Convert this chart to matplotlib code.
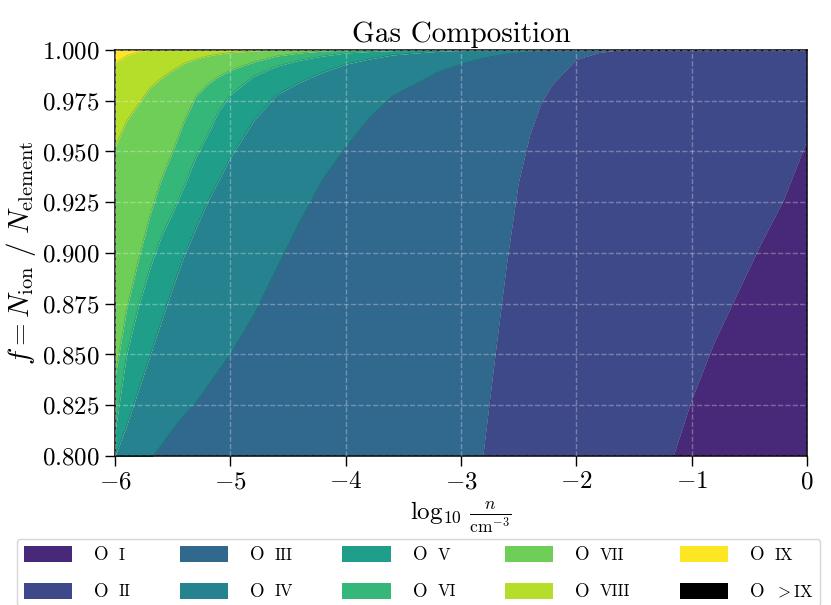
import numpy as np
import matplotlib
matplotlib.use("Agg")
import matplotlib.pyplot as plt

plt.rcParams.update({
    "font.family": "serif",
    "font.serif": ["cmr10"],
    "mathtext.fontset": "cm",
    "axes.formatter.use_mathtext": True,
})

# x axis: log10 of density
log_n = [-6.0, -5.9, -5.8, -5.7, -5.6, -5.5, -5.4, -5.3, -5.2, -5.1, -5.0,
         -4.8, -4.6, -4.4, -4.2, -4.0, -3.8, -3.6, -3.4, -3.2, -3.0, -2.8,
         -2.7, -2.6, -2.5, -2.4, -2.3, -2.2,
         -2.0, -1.8, -1.6, -1.4, -1.2, -1.0, -0.8, -0.6, -0.4, -0.2, 0.0]

# cumulative fraction up to (and including) each ion
top_O1 = [0.02, 0.02, 0.02, 0.02, 0.02, 0.03, 0.03, 0.03, 0.03, 0.03, 0.04,
          0.04, 0.05, 0.06, 0.07, 0.08, 0.09, 0.11, 0.13, 0.15, 0.18, 0.21,
          0.23, 0.25, 0.27, 0.30, 0.33, 0.36,
          0.43, 0.51, 0.59, 0.69, 0.792, 0.827, 0.856, 0.880, 0.904, 0.926, 0.955]
top_O2 = [0.30, 0.31, 0.32, 0.33, 0.34, 0.35, 0.36, 0.37, 0.38, 0.39, 0.40,
          0.42, 0.44, 0.46, 0.48, 0.50, 0.53, 0.56, 0.60, 0.65, 0.72, 0.803,
          0.850, 0.895, 0.934, 0.958, 0.974, 0.983,
          0.995, 0.9985, 1.0, 1.0, 1.0, 1.0, 1.0, 1.0, 1.0, 1.0, 1.0]
top_O3 = [0.775, 0.783, 0.790, 0.798, 0.805, 0.813, 0.820, 0.826, 0.834, 0.842, 0.850,
          0.869, 0.892, 0.915, 0.936, 0.952, 0.966, 0.977, 0.983, 0.989, 0.993, 0.996,
          0.997, 0.998, 0.9985, 0.999, 0.9995, 0.9997,
          1.0, 1.0, 1.0, 1.0, 1.0, 1.0, 1.0, 1.0, 1.0, 1.0, 1.0]
top_O4 = [0.800, 0.815, 0.832, 0.849, 0.866, 0.883, 0.899, 0.912, 0.925, 0.936, 0.947,
          0.965, 0.978, 0.984, 0.989, 0.993, 0.9955, 0.9975, 0.9985, 0.9993, 0.9998, 1.0,
          1.0, 1.0, 1.0, 1.0, 1.0, 1.0,
          1.0, 1.0, 1.0, 1.0, 1.0, 1.0, 1.0, 1.0, 1.0, 1.0, 1.0]
top_O5 = [0.812, 0.850, 0.873, 0.892, 0.908, 0.920, 0.933, 0.947, 0.958, 0.970, 0.978,
          0.987, 0.992, 0.995, 0.997, 0.9985, 0.9992, 0.9997, 1.0, 1.0, 1.0, 1.0,
          1.0, 1.0, 1.0, 1.0, 1.0, 1.0,
          1.0, 1.0, 1.0, 1.0, 1.0, 1.0, 1.0, 1.0, 1.0, 1.0, 1.0]
top_O6 = [0.839, 0.872, 0.896, 0.918, 0.936, 0.950, 0.965, 0.977, 0.983, 0.987, 0.990,
          0.994, 0.997, 0.9985, 0.9995, 1.0, 1.0, 1.0, 1.0, 1.0, 1.0, 1.0,
          1.0, 1.0, 1.0, 1.0, 1.0, 1.0,
          1.0, 1.0, 1.0, 1.0, 1.0, 1.0, 1.0, 1.0, 1.0, 1.0, 1.0]
top_O7 = [0.952, 0.965, 0.973, 0.981, 0.986, 0.990, 0.9935, 0.9955, 0.997, 0.998, 0.9987,
          0.9995, 1.0, 1.0, 1.0, 1.0, 1.0, 1.0, 1.0, 1.0, 1.0, 1.0,
          1.0, 1.0, 1.0, 1.0, 1.0, 1.0,
          1.0, 1.0, 1.0, 1.0, 1.0, 1.0, 1.0, 1.0, 1.0, 1.0, 1.0]
top_O8 = [0.9936, 0.9972, 0.999, 1.0, 1.0, 1.0, 1.0, 1.0, 1.0, 1.0, 1.0,
          1.0, 1.0, 1.0, 1.0, 1.0, 1.0, 1.0, 1.0, 1.0, 1.0, 1.0,
          1.0, 1.0, 1.0, 1.0, 1.0, 1.0,
          1.0, 1.0, 1.0, 1.0, 1.0, 1.0, 1.0, 1.0, 1.0, 1.0, 1.0]

element = "O"
ions = ["I", "II", "III", "IV", "V", "VI", "VII", "VIII", "IX", r"${>}$IX"]
xticks = [-6, -5, -4, -3, -2, -1, 0]
yticks = [0.800, 0.825, 0.850, 0.875, 0.900, 0.925, 0.950, 0.975, 1.000]

colors = [plt.cm.viridis(i / 9) for i in range(1, 10)] + ["black"]
zeros = np.zeros(len(log_n))
ones = np.ones(len(log_n))
bounds = [zeros, top_O1, top_O2, top_O3, top_O4, top_O5, top_O6, top_O7, top_O8, ones, ones]

fig = plt.figure(figsize=(8.31, 6.05), dpi=100)
ax = fig.add_axes([0.1384, 0.2463, 0.9711 - 0.1384, 0.9174 - 0.2463])

for i in range(10):
    ax.fill_between(log_n, bounds[i], bounds[i + 1], color=colors[i], lw=0,
                    label=ions[i], zorder=1)
for b in bounds[1:9]:
    ax.plot(log_n, b, color="k", lw=0.7, alpha=0.15, zorder=1.5)

ax.set_xlim(-6, 0)
ax.set_ylim(0.8, 1.0)
ax.set_xticks(xticks)
ax.set_yticks(yticks)
ax.grid(True, color="white", alpha=0.3, linestyle="--", lw=1)
ax.set_axisbelow(False)
ax.tick_params(direction="out", length=7, width=1, labelsize=18, pad=4)
for s in ax.spines.values():
    s.set_linewidth(1.1)

ax.set_title("Gas Composition", fontsize=21)
ax.set_xlabel(r"$\log_{10}\,\frac{n}{\mathrm{cm}^{-3}}$", fontsize=18, labelpad=4)
ax.set_ylabel(r"$f = N_\mathrm{ion}\ /\ N_\mathrm{element}$", fontsize=21, labelpad=3)

# legend labels are the (small) ion numerals; the element symbol is put in front
leg = ax.legend(loc="upper left", bbox_to_anchor=(17 / 831, 1 - 539 / 605),
                bbox_transform=fig.transFigure, ncol=5, fontsize=12,
                handlelength=2.9, handleheight=1.15, handletextpad=2.8,
                columnspacing=2.95, labelspacing=1.2, borderaxespad=0,
                edgecolor="0.8")

for t in leg.get_texts():
    ax.annotate(element, xy=(0, 0), xycoords=t, xytext=(-7.5, -1.2),
                textcoords="offset points", va="bottom", ha="right",
                fontsize=13.5, annotation_clip=False, zorder=6)

fig.savefig("out.png", dpi=100)
